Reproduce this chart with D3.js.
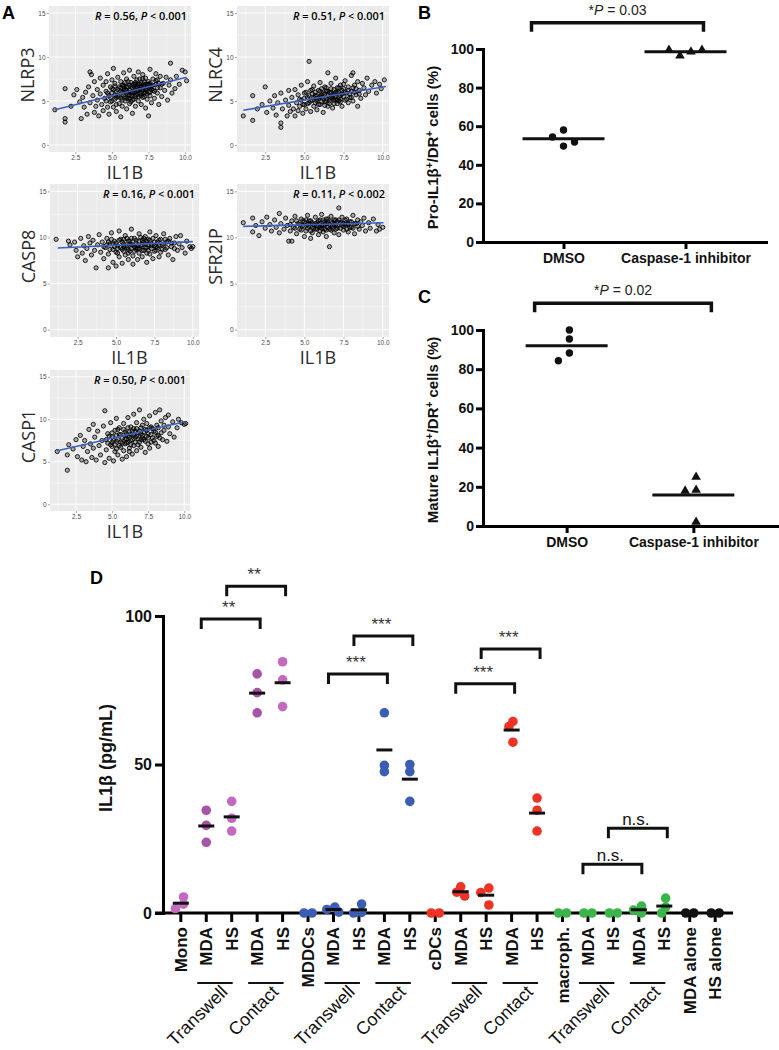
<!DOCTYPE html>
<meta charset="utf-8">
<style>
body { margin: 0; background: #fff; }
svg { display: block; }
</style>
<body>
<script src="https://d3js.org/d3.v7.min.js"></script>
<script>
// ---------- data ----------
// panel A: expression scatter vs IL1B
const aGenes = ["NLRP3", "NLRC4", "CASP8", "SFR2IP", "CASP1"];
const aR = ["0.56", "0.51", "0.16", "0.11", "0.50"];
const aP = ["0.001", "0.001", "0.001", "0.002", "0.001"];
// fitted line end points [x0, y0, x1, y1]
const aFits = [[1.1, 4.0, 10.1, 7.7], [1.1, 3.95, 10.2, 6.65], [1.2, 8.85, 10.0, 9.55], [1.1, 11.2, 10.05, 11.6], [1.2, 6.3, 10.05, 9.7]];

const nlrp3 = [[1.1,4.0],[1.8,3.0],[1.8,2.6],[1.8,6.4],[2.2,4.4],[2.4,5.7],[2.6,6.3],[2.8,4.9],[2.9,3.0],[3.0,5.4],[3.1,4.3],[3.2,6.0],[3.3,3.5],[3.4,6.6],[3.5,8.3],[3.5,4.8],[3.6,8.0],[3.7,5.6],[3.8,3.7],[3.8,7.2],[3.9,4.4],[4.0,6.3],[4.0,5.1],[4.1,3.3],[4.2,7.6],[4.2,5.8],[4.3,4.6],[4.4,6.8],[4.4,3.9],[4.5,5.3],[4.6,7.2],[4.6,6.1],[4.7,4.3],[4.7,8.1],[4.8,5.6],[4.8,3.5],[4.9,6.6],[4.9,4.9],[5.0,7.4],[5.0,5.9],[5.1,8.7],[5.1,4.3],[5.1,6.3],[5.2,5.2],[5.2,7.0],[5.3,3.8],[5.3,6.1],[5.4,5.6],[5.4,7.7],[5.5,4.7],[5.5,6.6],[5.6,5.3],[5.6,3.2],[5.6,7.2],[5.7,6.0],[5.7,4.4],[5.8,8.2],[5.8,5.7],[5.8,6.8],[5.9,5.0],[5.9,6.3],[6.0,4.1],[6.0,7.5],[6.0,5.9],[6.1,6.6],[6.1,5.3],[6.2,8.5],[6.2,4.7],[6.2,6.2],[6.3,7.1],[6.3,5.6],[6.4,3.6],[6.4,6.5],[6.4,5.1],[6.5,7.8],[6.5,6.0],[6.6,4.4],[6.6,6.9],[6.6,5.5],[6.7,7.4],[6.7,6.2],[6.8,5.0],[6.8,8.3],[6.9,6.6],[6.9,5.8],[7.0,7.1],[7.0,4.6],[7.0,6.3],[7.1,8.0],[7.1,5.4],[7.2,6.8],[7.2,5.9],[7.3,7.6],[7.3,4.2],[7.4,6.4],[7.4,5.2],[7.5,3.3],[7.5,7.2],[7.5,6.0],[7.6,8.6],[7.6,5.6],[7.7,6.7],[7.7,4.8],[7.8,7.5],[7.8,6.2],[7.9,5.3],[8.0,8.1],[8.0,6.9],[8.1,5.9],[8.1,7.4],[8.2,4.6],[8.3,6.5],[8.3,7.8],[8.4,5.5],[8.5,7.0],[8.6,6.2],[8.7,7.7],[8.8,5.1],[8.9,6.8],[9.0,9.3],[9.0,7.4],[9.1,5.9],[9.3,6.4],[9.4,7.8],[9.6,6.9],[9.8,8.5],[10.0,8.3],[10.1,7.3],[5.2,5.7],[5.6,6.5],[6.0,6.2],[6.2,5.3],[6.5,6.9],[6.8,6.2],[7.0,5.9],[7.2,6.6],[7.5,6.9],[5.8,6.6],[6.4,6.0],[6.6,6.5],[7.3,6.3],[7.6,6.4],[6.9,6.9],
  [4.6,5.0],[4.9,5.4],[5.0,6.4],[5.2,6.7],[5.3,4.6],[5.4,6.3],[5.5,5.5],[5.6,6.1],[5.7,6.8],[5.7,5.1],[5.8,6.2],[5.9,5.5],[5.9,7.1],[6.0,6.6],[6.0,5.3],[6.1,6.0],[6.1,7.2],[6.2,5.7],[6.2,6.8],[6.3,6.0],[6.3,4.9],[6.4,6.8],[6.4,5.6],[6.5,6.4],[6.5,5.2],[6.6,7.1],[6.6,6.0],[6.7,5.7],[6.7,6.7],[6.8,6.9],[6.8,5.5],[6.9,6.3],[6.9,7.5],[7.0,5.6],[7.0,6.7],[7.1,6.2],[7.1,7.5],[7.2,5.5],[7.2,7.2],[7.3,6.0],[7.3,6.9],[7.4,6.9],[7.4,5.8],[7.5,6.5],[7.6,7.0],[7.6,6.0],[7.7,6.3],[7.8,6.8],[7.9,6.1],[8.0,7.3],[8.1,6.5],[8.2,7.0],[8.4,6.9],[5.3,5.4],[4.7,5.9],[5.0,5.0]];

const nlrc4 = [[1.1,3.3],[1.7,5.6],[1.7,2.8],[2.0,4.1],[2.3,4.6],[2.5,6.6],[2.6,3.7],[2.8,5.0],[3.0,4.2],[3.1,5.6],[3.2,3.4],[3.3,4.8],[3.5,2.0],[3.5,2.5],[3.5,5.9],[3.6,4.1],[3.8,5.1],[3.9,3.3],[4.0,6.2],[4.0,4.5],[4.1,3.8],[4.2,5.4],[4.3,4.1],[4.4,3.3],[4.4,6.3],[4.5,4.8],[4.6,5.7],[4.6,3.9],[4.7,4.4],[4.8,6.8],[4.8,5.1],[4.9,3.6],[5.0,4.6],[5.0,5.9],[5.1,4.1],[5.2,5.4],[5.2,7.2],[5.3,9.5],[5.3,4.8],[5.4,3.8],[5.4,6.2],[5.5,5.1],[5.6,4.4],[5.6,6.7],[5.7,5.6],[5.8,4.0],[5.8,5.0],[5.9,6.2],[6.0,4.6],[6.0,7.1],[6.1,5.4],[6.2,3.7],[6.2,5.9],[6.3,4.9],[6.3,6.6],[6.4,5.3],[6.5,8.2],[6.5,4.4],[6.6,6.0],[6.6,5.0],[6.7,7.0],[6.8,5.6],[6.8,4.2],[6.9,6.3],[7.0,5.2],[7.0,7.6],[7.1,4.7],[7.2,6.0],[7.2,5.5],[7.3,6.8],[7.4,4.4],[7.4,5.8],[7.5,6.4],[7.6,5.1],[7.6,7.3],[7.7,5.9],[7.8,4.8],[7.8,6.6],[7.9,5.4],[8.0,7.9],[8.0,6.1],[8.1,8.2],[8.1,5.0],[8.2,6.8],[8.3,5.7],[8.4,4.4],[8.4,7.2],[8.5,6.2],[8.6,5.3],[8.7,7.0],[8.8,6.5],[8.9,5.7],[9.0,7.6],[9.1,6.1],[9.3,6.8],[9.5,7.2],[9.6,5.9],[9.8,6.9],[9.9,6.4],[10.1,7.4],[5.5,5.8],[6.1,5.7],[6.4,6.1],[6.9,5.1],[7.1,6.5],[5.9,5.3],[6.7,5.4],[7.3,5.2],
  [4.7,5.2],[4.9,4.6],[5.0,5.3],[5.1,6.0],[5.2,4.7],[5.3,5.6],[5.4,5.0],[5.5,6.3],[5.6,5.4],[5.7,4.8],[5.7,6.0],[5.8,5.6],[5.9,4.6],[6.0,5.5],[6.0,6.1],[6.1,4.9],[6.1,6.4],[6.2,5.3],[6.3,5.8],[6.3,4.5],[6.4,6.5],[6.4,5.0],[6.5,5.6],[6.5,6.1],[6.6,4.7],[6.7,5.9],[6.7,6.4],[6.8,5.3],[6.9,5.8],[6.9,4.7],[7.0,6.0],[7.0,5.5],[7.1,5.9],[7.1,5.1],[7.2,6.5],[7.3,5.6],[7.3,4.9],[7.4,6.2],[7.5,5.5],[7.5,6.9],[7.6,6.0],[7.7,5.2],[7.8,6.2],[7.9,5.8],[8.0,5.4],[8.1,6.5],[8.2,6.0],[8.3,6.4],[8.5,5.8],[5.8,5.2],[6.6,5.3],[7.2,5.0]];

const casp8 = [[1.1,9.8],[1.9,9.6],[2.0,9.2],[2.3,9.5],[2.4,8.6],[2.5,7.9],[2.7,9.9],[2.8,8.3],[2.9,9.1],[3.0,7.5],[3.1,8.8],[3.2,10.1],[3.3,9.4],[3.4,8.1],[3.5,9.7],[3.6,8.6],[3.7,6.7],[3.8,9.2],[3.9,10.3],[4.0,8.4],[4.1,9.5],[4.2,7.7],[4.3,8.9],[4.4,9.9],[4.5,6.7],[4.5,8.2],[4.6,9.3],[4.7,10.5],[4.8,8.7],[4.8,7.3],[4.9,9.6],[5.0,6.9],[5.0,8.4],[5.1,9.1],[5.2,10.7],[5.2,7.9],[5.3,9.8],[5.4,8.7],[5.4,7.2],[5.5,9.3],[5.6,10.2],[5.6,8.1],[5.7,8.9],[5.8,9.6],[5.8,7.6],[5.9,8.5],[6.0,10.9],[6.0,9.2],[6.1,7.1],[6.1,8.0],[6.2,9.9],[6.3,8.7],[6.3,9.4],[6.4,7.6],[6.5,10.4],[6.5,8.3],[6.6,9.1],[6.7,9.7],[6.7,7.9],[6.8,8.6],[6.9,10.1],[6.9,9.3],[7.0,7.3],[7.0,8.9],[7.1,9.8],[7.2,8.2],[7.2,10.6],[7.3,9.1],[7.4,7.7],[7.5,9.5],[7.5,8.5],[7.6,10.2],[7.7,8.9],[7.8,7.9],[7.8,9.7],[7.9,8.4],[8.0,9.2],[8.1,10.4],[8.2,8.7],[8.3,9.5],[8.4,8.1],[8.5,9.9],[8.6,9.0],[8.7,7.6],[8.8,9.4],[8.9,10.1],[9.0,8.6],[9.1,9.3],[9.2,10.2],[9.3,8.9],[9.5,8.3],[9.6,9.6],[9.8,9.0],[9.9,8.8],[10.0,9.0],[5.5,9.0],[6.2,9.0],[6.8,9.5],[5.9,9.3],[7.3,9.3],[6.4,8.8],[5.1,8.8],[7.6,9.0],[4.4,9.2],[8.2,9.8],
  [4.2,9.0],[4.5,9.5],[4.6,8.7],[4.7,9.8],[4.9,9.0],[5.0,9.4],[5.1,8.3],[5.2,9.7],[5.3,8.9],[5.4,9.5],[5.5,8.5],[5.6,9.1],[5.7,9.9],[5.8,8.7],[5.9,9.6],[6.0,8.8],[6.0,9.9],[6.1,9.2],[6.2,8.5],[6.3,9.7],[6.4,9.1],[6.5,9.6],[6.5,8.8],[6.6,10.0],[6.7,8.6],[6.7,9.2],[6.8,9.9],[6.9,8.9],[7.0,9.6],[7.1,8.6],[7.1,9.2],[7.2,9.7],[7.3,8.8],[7.4,9.9],[7.5,9.1],[7.6,8.6],[7.7,9.5],[7.8,9.1],[7.9,9.8],[8.0,8.7],[8.1,9.3],[8.3,8.9],[8.4,9.6],[8.6,9.4],[8.8,8.8],[4.8,9.3],[5.5,9.8],[6.3,8.9],[7.0,8.3],[5.8,8.3]];

const sfr2ip = [[1.1,11.6],[1.7,12.1],[1.7,10.6],[1.9,11.3],[2.1,10.2],[2.3,11.7],[2.5,11.0],[2.6,12.2],[2.8,11.4],[2.9,10.7],[3.1,11.9],[3.2,11.1],[3.4,12.6],[3.4,10.5],[3.5,11.5],[3.7,10.9],[3.8,12.1],[3.9,11.3],[4.0,9.6],[4.1,10.7],[4.2,9.6],[4.2,11.8],[4.3,11.1],[4.4,12.3],[4.5,10.4],[4.6,11.5],[4.7,10.9],[4.8,12.0],[4.9,11.3],[5.0,10.1],[5.0,11.7],[5.1,10.7],[5.2,12.4],[5.3,11.2],[5.4,9.9],[5.4,11.8],[5.5,10.5],[5.6,11.4],[5.7,12.2],[5.7,10.9],[5.8,11.6],[5.9,10.3],[6.0,11.9],[6.0,11.1],[6.1,12.5],[6.2,10.6],[6.3,11.4],[6.4,12.0],[6.4,10.1],[6.5,11.7],[6.6,9.0],[6.6,10.9],[6.7,12.3],[6.8,11.3],[6.9,10.5],[7.0,11.9],[7.1,11.0],[7.2,13.2],[7.2,10.3],[7.3,11.6],[7.4,12.2],[7.5,10.8],[7.6,11.4],[7.7,12.0],[7.8,10.6],[7.9,11.7],[8.0,11.1],[8.1,12.4],[8.2,10.4],[8.3,11.5],[8.4,11.9],[8.5,10.9],[8.7,11.3],[8.8,12.1],[8.9,10.7],[9.1,11.6],[9.2,11.0],[9.4,12.0],[9.6,10.7],[9.7,11.4],[9.8,10.9],[10.0,11.1],[5.3,11.5],[5.9,11.2],[6.3,11.7],[6.8,11.6],[7.4,11.3],[5.5,11.1],[6.1,11.3],[7.0,11.4],[4.9,11.8],[7.8,11.4],
  [4.1,11.4],[4.4,11.0],[4.5,11.8],[4.7,11.4],[4.8,10.8],[5.0,11.2],[5.1,11.9],[5.2,11.0],[5.3,11.8],[5.4,10.7],[5.5,11.6],[5.6,11.0],[5.7,11.5],[5.8,10.9],[5.9,11.8],[6.0,10.7],[6.0,11.5],[6.1,11.0],[6.2,11.9],[6.2,11.3],[6.3,10.9],[6.4,11.5],[6.5,11.1],[6.5,12.0],[6.6,11.4],[6.7,10.8],[6.7,11.7],[6.8,11.0],[6.9,11.9],[7.0,10.9],[7.1,11.7],[7.1,11.3],[7.2,11.9],[7.3,11.0],[7.4,11.6],[7.5,11.2],[7.6,11.9],[7.7,10.9],[7.8,11.5],[7.9,11.1],[8.0,11.7],[8.1,11.0],[8.2,11.5],[8.4,11.2],[8.6,11.7],[5.2,11.4],[5.8,11.3],[6.9,11.4],[7.5,11.5],[6.4,10.8]];

const casp1 = [[1.2,6.2],[1.9,5.8],[1.9,4.0],[2.0,7.0],[2.3,6.5],[2.5,7.6],[2.6,5.6],[2.8,8.1],[2.9,5.2],[3.0,6.8],[3.1,7.5],[3.2,5.0],[3.3,6.2],[3.4,8.8],[3.5,7.1],[3.6,5.5],[3.7,9.4],[3.7,6.6],[3.8,7.9],[3.9,5.2],[4.0,8.6],[4.1,6.9],[4.2,5.8],[4.3,7.5],[4.4,9.2],[4.5,11.0],[4.5,4.9],[4.6,6.4],[4.7,8.3],[4.7,7.2],[4.8,5.4],[4.9,9.6],[5.0,6.8],[5.0,7.9],[5.1,5.1],[5.2,8.7],[5.2,6.2],[5.3,10.1],[5.3,7.4],[5.4,5.8],[5.5,8.2],[5.5,9.0],[5.6,6.7],[5.7,5.3],[5.7,7.8],[5.8,9.5],[5.8,6.3],[5.9,8.5],[6.0,7.2],[6.0,5.6],[6.1,10.2],[6.1,8.0],[6.2,6.6],[6.3,9.1],[6.3,7.5],[6.4,5.9],[6.4,8.6],[6.5,10.6],[6.5,6.9],[6.6,7.9],[6.7,9.6],[6.7,6.3],[6.8,8.4],[6.9,11.1],[6.9,7.3],[7.0,9.0],[7.0,6.7],[7.1,8.1],[7.2,10.0],[7.2,7.6],[7.3,6.1],[7.3,8.8],[7.4,9.5],[7.5,7.1],[7.5,8.3],[7.6,10.4],[7.6,6.6],[7.7,9.1],[7.8,7.8],[7.9,8.6],[8.0,10.8],[8.0,7.2],[8.1,9.3],[8.2,6.8],[8.2,8.1],[8.3,11.1],[8.4,9.8],[8.5,7.6],[8.6,8.7],[8.7,10.2],[8.8,7.4],[8.9,9.1],[8.9,10.5],[9.0,8.3],[9.2,9.7],[9.3,7.9],[9.5,9.0],[9.6,10.0],[9.8,9.6],[10.0,9.4],[10.1,9.5],[5.6,7.3],[6.2,7.9],[6.6,8.6],[7.1,7.8],[5.9,7.7],[6.8,7.7],[7.4,8.0],
  [4.6,7.6],[4.8,8.0],[4.9,7.0],[5.0,8.4],[5.1,7.5],[5.2,7.0],[5.3,8.1],[5.4,7.6],[5.4,8.8],[5.5,6.9],[5.6,8.2],[5.7,7.2],[5.8,8.8],[5.9,7.1],[6.0,8.3],[6.0,7.7],[6.1,9.0],[6.1,7.3],[6.2,8.5],[6.3,7.0],[6.3,8.2],[6.4,7.6],[6.5,8.9],[6.5,8.1],[6.6,7.3],[6.7,8.9],[6.7,8.0],[6.8,7.0],[6.9,8.6],[7.0,7.6],[7.0,8.3],[7.1,9.3],[7.2,8.5],[7.3,7.4],[7.4,8.7],[7.5,7.8],[7.6,9.0],[7.7,8.2],[7.8,8.9],[7.9,7.5],[8.0,8.5],[8.1,8.0],[8.2,9.0],[8.4,8.4],[8.6,9.3],[5.3,6.5],[6.2,6.2],[7.7,7.3],[8.3,7.8],[5.0,7.3]];

const aPoints = [nlrp3, nlrc4, casp8, sfr2ip, casp1];

// panels B and C
const bcCats = ["DMSO", "Caspase-1 inhibitor"];
const bDMSO = [58, 49.7, 54.4, 51.8];
const bInhib = [98.6, 96.5, 99.5, 99.5];
const cDMSO = [100, 95.4, 88.3, 84.3];
const cInhib = [25, 18.4, 17.9, 2];

// panel D
const dCats = ["Mono", "MDA", "HS", "MDA", "HS", "MDDCs", "MDA", "HS", "MDA", "HS", "cDCs", "MDA", "HS", "MDA", "HS", "macroph.", "MDA", "HS", "MDA", "HS", "MDA alone", "HS alone"];
const dValues = [
  [5.4, 3.0, 1.5], [34.6, 29.5, 23.8], [37.6, 31.9, 27.6], [80.5, 74.2, 67.4], [84.6, 78.5, 69.5],
  [0, 0], [2.0, 1.2, 0.3], [3.0, 0.2, 0], [67.4, 49.7, 47.6], [50, 47.6, 37.6],
  [0, 0], [8.8, 7.0, 5.7], [8.4, 6.9, 2.7], [64.5, 62.8, 57.5], [38.7, 34.6, 27.6],
  [0, 0], [0, 0], [0, 0], [2.3, 1.0, 0], [5.0, 2.0, 0],
  [0, 0], [0, 0]
];
const dPairs = [[1, 2], [3, 4], [6, 7], [8, 9], [11, 12], [13, 14], [16, 17], [18, 19]];
const dPairLabels = ["Transwell", "Contact", "Transwell", "Contact", "Transwell", "Contact", "Transwell", "Contact"];
const dBrackets = [
  {a: 1, b: 3, v: 99, label: "**"}, {a: 2, b: 4, v: 110, label: "**"},
  {a: 6, b: 8, v: 80.5, label: "***"}, {a: 7, b: 9, v: 93.3, label: "***"},
  {a: 11, b: 13, v: 77.2, label: "***"}, {a: 12, b: 14, v: 88.9, label: "***"},
  {a: 16, b: 18, v: 16.4, label: "n.s."}, {a: 17, b: 19, v: 28.5, label: "n.s."}
];

// ---------- drawing ----------
const ARIAL = "'Liberation Sans', Arial, sans-serif";
const svg = d3.select("body").append("svg").attr("width", 779).attr("height", 1050);
svg.append("rect").attr("width", 779).attr("height", 1050).attr("fill", "#fff");

function swarm(vals, y, step, minD) {
  const placed = [];
  vals.forEach(v => {
    const cy = y(v);
    const cands = [0];
    for (let k = 1; k < 6; k++) cands.push(-k * step, k * step);
    for (const dx of cands) {
      if (placed.every(p => Math.hypot(p.dx - dx, p.cy - cy) >= minD)) { placed.push({v, dx, cy}); break; }
    }
  });
  const m = d3.mean(placed, p => p.dx);
  placed.forEach(p => p.dx -= m);
  return placed;
}

// ---- A ----
const aBoxes = [[49, 6, 142, 146], [237, 6, 152, 146], [50, 184, 149, 153], [237, 184, 152, 153], [50, 370, 140, 141]];
svg.append("text").attr("x", 2).attr("y", 19).attr("font-family", ARIAL).attr("font-weight", "bold").attr("font-size", 18).text("A");

aGenes.forEach((gene, i) => {
  const [bx, by, bw, bh] = aBoxes[i];
  const x = d3.scaleLinear().domain([0.7, 10.4]).range([bx, bx + bw]);
  const y = d3.scaleLinear().domain([-0.8, 15.8]).range([by + bh, by]);
  const g = svg.append("g");
  g.append("rect").attr("x", bx).attr("y", by).attr("width", bw).attr("height", bh).attr("fill", "#ebebeb");
  g.selectAll(".vmin").data([1.25, 3.75, 6.25, 8.75]).join("line")
    .attr("x1", d => x(d)).attr("x2", d => x(d)).attr("y1", by).attr("y2", by + bh)
    .attr("stroke", "#fff").attr("stroke-width", 0.4);
  g.selectAll(".hmin").data([2.5, 7.5, 12.5]).join("line")
    .attr("y1", d => y(d)).attr("y2", d => y(d)).attr("x1", bx).attr("x2", bx + bw)
    .attr("stroke", "#fff").attr("stroke-width", 0.4);
  g.selectAll(".vmaj").data([2.5, 5, 7.5, 10]).join("line")
    .attr("x1", d => x(d)).attr("x2", d => x(d)).attr("y1", by).attr("y2", by + bh)
    .attr("stroke", "#fff").attr("stroke-width", 0.9);
  g.selectAll(".hmaj").data([0, 5, 10, 15]).join("line")
    .attr("y1", d => y(d)).attr("y2", d => y(d)).attr("x1", bx).attr("x2", bx + bw)
    .attr("stroke", "#fff").attr("stroke-width", 0.9);

  g.append("g").selectAll("circle").data(aPoints[i]).join("circle")
    .attr("cx", d => x(d[0])).attr("cy", d => y(d[1])).attr("r", 2.1)
    .attr("fill", "#000").attr("fill-opacity", 0.28).attr("stroke", "#000").attr("stroke-width", 0.85);

  const f = aFits[i];
  g.append("line").attr("x1", x(f[0])).attr("y1", y(f[1])).attr("x2", x(f[2])).attr("y2", y(f[3]))
    .attr("stroke", "#3b62c2").attr("stroke-width", 1.6);

  const ax = g.append("g").attr("transform", `translate(0,${by + bh})`)
    .call(d3.axisBottom(x).tickValues([2.5, 5, 7.5, 10]).tickFormat(d3.format(".1f")).tickSize(2).tickPadding(1));
  const ay = g.append("g").attr("transform", `translate(${bx},0)`)
    .call(d3.axisLeft(y).tickValues([0, 5, 10, 15]).tickSize(2).tickPadding(1.5));
  [ax, ay].forEach(a => {
    a.select(".domain").remove();
    a.attr("font-size", 6.5).attr("font-family", ARIAL);
    a.selectAll("line").attr("stroke", "#555").attr("stroke-width", 0.5);
    a.selectAll("text").attr("fill", "#4d4d4d");
  });

  g.append("text").attr("transform", `translate(${bx - 15},${by + bh / 2 - 4}) rotate(-90)`)
    .attr("text-anchor", "middle").attr("font-family", "'Open Sans', sans-serif")
    .attr("font-size", 18).attr("fill", "#2a2a2a").text(gene);
  g.append("text").attr("x", bx + bw / 2 + 5).attr("y", by + bh + 27)
    .attr("text-anchor", "middle").attr("font-family", "'Open Sans', sans-serif")
    .attr("font-size", 18).attr("fill", "#2a2a2a").text("IL1B");

  const st = g.append("text").attr("x", bx + bw - 4).attr("y", by + 14).attr("text-anchor", "end")
    .attr("font-family", "'Open Sans', sans-serif").attr("font-weight", 600).attr("font-size", 11).attr("fill", "#000")
    .attr("textLength", 92).attr("lengthAdjust", "spacingAndGlyphs");
  st.append("tspan").attr("font-style", "italic").text("R");
  st.append("tspan").text(` = ${aR[i]}, `);
  st.append("tspan").attr("font-style", "italic").text("P");
  st.append("tspan").text(` < ${aP[i]}`);
});

// ---- B and C ----
function dotPanel(o) {
  const y = d3.scaleLinear().domain([0, 100]).range([o.y0, o.y0 - o.h]);
  const x = d3.scalePoint().domain(bcCats).range([483, o.xEnd]).padding(0.66);
  const g = svg.append("g").attr("font-family", ARIAL);

  g.append("text").attr("x", 418).attr("y", o.labelY).attr("font-weight", "bold").attr("font-size", 18).text(o.letter);

  const ay = g.append("g").attr("transform", "translate(483,0)")
    .call(d3.axisLeft(y).tickValues([0, 20, 40, 60, 80, 100]).tickSize(7).tickSizeOuter(0).tickPadding(2));
  const ax = g.append("g").attr("transform", `translate(0,${o.y0})`)
    .call(d3.axisBottom(x).tickSize(7).tickSizeOuter(0).tickPadding(4));
  [ax, ay].forEach(a => {
    a.attr("font-size", 14).attr("font-family", ARIAL).attr("font-weight", "bold");
    a.selectAll("line, path").attr("stroke", "#000").attr("stroke-width", 3);
    a.select(".domain").attr("stroke-linecap", "square");
    a.selectAll("text").attr("fill", "#111");
  });

  const t = g.append("text").attr("transform", `translate(438,${o.y0 - o.h / 2 + 2}) rotate(-90)`)
    .attr("text-anchor", "middle").attr("font-weight", "bold").attr("font-size", 15).attr("fill", "#111");
  t.append("tspan").text(o.prefix + "IL1β");
  t.append("tspan").attr("dy", -5).attr("font-size", 10).text("+");
  t.append("tspan").attr("dy", 5).text("/DR");
  t.append("tspan").attr("dy", -5).attr("font-size", 10).text("+");
  t.append("tspan").attr("dy", 5).text(" cells (%)");

  [o.ctrl, o.inh].forEach((vals, k) => {
    const cx = x(bcCats[k]);
    const pts = swarm(vals, y, 11, 8);
    if (k === 0) {
      g.selectAll(null).data(pts).join("circle")
        .attr("cx", p => cx + p.dx).attr("cy", p => p.cy).attr("r", 3.7).attr("fill", "#111");
    } else {
      g.selectAll(null).data(pts).join("path")
        .attr("d", d3.symbol(d3.symbolTriangle, 40))
        .attr("transform", p => `translate(${cx + p.dx},${p.cy})`).attr("fill", "#111");
    }
    const m = y(d3.mean(vals));
    g.append("line").attr("x1", cx - 41).attr("x2", cx + 41).attr("y1", m).attr("y2", m)
      .attr("stroke", "#111").attr("stroke-width", 3);
  });

  const x0 = x(bcCats[0]) - 32, x1 = x(bcCats[1]) + 18;
  const yt = y(113.6), yl = y(109);
  g.append("path").attr("d", `M${x0},${yl}V${yt}H${x1}V${yl}`)
    .attr("fill", "none").attr("stroke", "#111").attr("stroke-width", 3.5);
  const pt = g.append("text").attr("x", (x0 + x1) / 2).attr("y", yt - 8).attr("text-anchor", "middle")
    .attr("font-size", 14).attr("fill", "#222");
  pt.append("tspan").text("*");
  pt.append("tspan").attr("font-style", "italic").text("P");
  pt.append("tspan").text(" = " + o.p);
}
dotPanel({letter: "B", labelY: 19, y0: 242, h: 193, xEnd: 766, ctrl: bDMSO, inh: bInhib, prefix: "Pro-", p: "0.03"});
dotPanel({letter: "C", labelY: 303, y0: 526, h: 196, xEnd: 777, ctrl: cDMSO, inh: cInhib, prefix: "Mature ", p: "0.02"});

// ---- D ----
const dy = d3.scaleLinear().domain([0, 100]).range([913, 616]);
const dx = d3.scalePoint().domain(d3.range(dCats.length)).range([163, 733]).padding(0.7);
const gd = svg.append("g").attr("font-family", ARIAL);
gd.append("text").attr("x", 90).attr("y", 584).attr("font-weight", "bold").attr("font-size", 18).text("D");

function dColor(i) {
  const t = Math.floor(i / 5);
  if (t === 0) return (i === 1 || i === 3) ? "#a653a8" : "#c469bd";
  return ["#a653a8", "#3b5db3", "#ee3224", "#3bb44a", "#111"][t];
}

const ady = gd.append("g").attr("transform", "translate(163,0)")
  .call(d3.axisLeft(dy).tickValues([0, 50, 100]).tickSize(8).tickSizeOuter(0).tickPadding(3));
ady.attr("font-size", 16).attr("font-family", ARIAL).attr("font-weight", "bold");
ady.selectAll("line, path").attr("stroke", "#000").attr("stroke-width", 3);
ady.select(".domain").attr("stroke-linecap", "square");
ady.selectAll("text").attr("fill", "#111");

gd.append("line").attr("x1", 155).attr("x2", 733).attr("y1", dy(0)).attr("y2", dy(0))
  .attr("stroke", "#000").attr("stroke-width", 3);
gd.selectAll(null).data(dCats).join("line")
  .attr("x1", (d, i) => dx(i)).attr("x2", (d, i) => dx(i)).attr("y1", dy(0)).attr("y2", dy(0) + 9)
  .attr("stroke", "#000").attr("stroke-width", 3);
gd.selectAll(null).data(dCats).join("text")
  .attr("transform", (d, i) => `translate(${dx(i) + 6},927) rotate(-90)`)
  .attr("text-anchor", "end").attr("font-weight", "bold").attr("font-size", 17).attr("fill", "#111").text(d => d);

dPairs.forEach(([a, b], k) => {
  gd.append("line").attr("x1", dx(a) - 9).attr("x2", dx(b) + 1).attr("y1", 983).attr("y2", 983)
    .attr("stroke", "#111").attr("stroke-width", 2);
  gd.append("text").attr("transform", `translate(${dx(b) - 3},993) rotate(-45)`)
    .attr("text-anchor", "end").attr("font-size", 18).attr("fill", "#111").text(dPairLabels[k]);
});

gd.append("text").attr("transform", `translate(112,758) rotate(-90)`).attr("text-anchor", "middle")
  .attr("font-weight", "bold").attr("font-size", 18).attr("fill", "#111").text("IL1β (pg/mL)");

dValues.forEach((vals, i) => {
  const cx = dx(i);
  const pts = swarm(vals, dy, 4, 6);
  gd.selectAll(null).data(pts).join("circle")
    .attr("cx", p => cx + p.dx).attr("cy", p => p.cy).attr("r", 4.8).attr("fill", dColor(i));
});
dValues.forEach((vals, i) => {
  const m = dy(d3.mean(vals));
  if (d3.mean(vals) > 0) {
    gd.append("line").attr("x1", dx(i) - 8).attr("x2", dx(i) + 8).attr("y1", m).attr("y2", m)
      .attr("stroke", "#111").attr("stroke-width", 3);
  }
});

dBrackets.forEach(br => {
  const x0 = dx(br.a) - 5, x1 = dx(br.b) + 3, yt = dy(br.v);
  gd.append("path").attr("d", `M${x0},${yt + 10}V${yt}H${x1}V${yt + 10}`)
    .attr("fill", "none").attr("stroke", "#111").attr("stroke-width", 3);
  const ns = br.label === "n.s.";
  gd.append("text").attr("x", (x0 + x1) / 2 - 2).attr("y", yt - (ns ? 3 : 6)).attr("text-anchor", "middle")
    .attr("font-size", 17).attr("fill", ns ? "#111" : "#333").text(br.label);
});
</script>
</body>
